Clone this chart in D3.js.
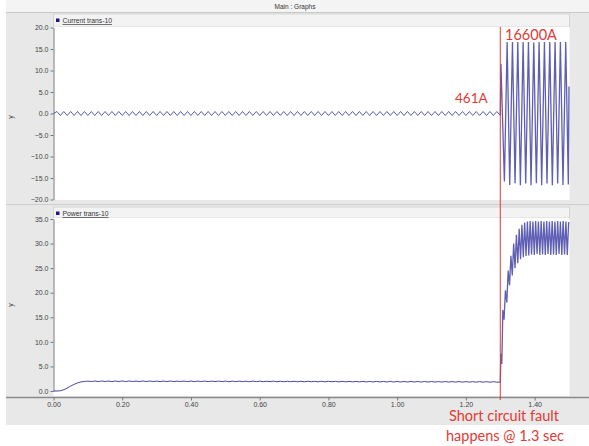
<!DOCTYPE html>
<html>
<head>
<meta charset="utf-8">
<script src="https://cdn.jsdelivr.net/npm/d3@7"></script>
<style>
  body { margin: 0; background: #fff; }
  svg { display: block; }
</style>
</head>
<body>
<svg id="chart" width="589" height="446"></svg>
<script>
// values (kA and MW, time in s)
const sampleStep = 0.01;   // pre-fault samples, one per half cycle

const currentPre = [
  0,
  0.46,-0.46,0.46,-0.46,0.46,-0.46,0.46,-0.46,0.46,-0.46,
  0.46,-0.46,0.46,-0.46,0.46,-0.46,0.46,-0.46,0.46,-0.46,
  0.46,-0.46,0.46,-0.46,0.46,-0.46,0.46,-0.46,0.46,-0.46,
  0.46,-0.46,0.46,-0.46,0.46,-0.46,0.46,-0.46,0.46,-0.46,
  0.46,-0.46,0.46,-0.46,0.46,-0.46,0.46,-0.46,0.46,-0.46,
  0.46,-0.46,0.46,-0.46,0.46,-0.46,0.46,-0.46,0.46,-0.46,
  0.46,-0.46,0.46,-0.46,0.46,-0.46,0.46,-0.46,0.46,-0.46,
  0.46,-0.46,0.46,-0.46,0.46,-0.46,0.46,-0.46,0.46,-0.46,
  0.46,-0.46,0.46,-0.46,0.46,-0.46,0.46,-0.46,0.46,-0.46,
  0.46,-0.46,0.46,-0.46,0.46,-0.46,0.46,-0.46,0.46,-0.46,
  0.46,-0.46,0.46,-0.46,0.46,-0.46,0.46,-0.46,0.46,-0.46,
  0.46,-0.46,0.46,-0.46,0.46,-0.46,0.46,-0.46,0.46,-0.46,
  0.46,-0.46,0.46,-0.46,0.46,-0.46,0.46,-0.46,0.46,-0.46
];

const powerPre = [
  0,0,0.05,0.25,0.6,1.0,1.35,1.65,1.85,1.95,2.0,
  1.93,2.03,1.92,2.04,1.93,2.02,1.92,2.03,1.93,2.04,
  1.92,2.03,1.93,2.02,1.92,2.04,1.93,2.03,1.92,2.02,
  1.91,2.02,1.92,2.03,1.91,2.01,1.92,2.02,1.91,2.03,
  1.91,2.01,1.92,2.02,1.90,2.01,1.91,2.02,1.90,2.01,
  1.90,2.00,1.91,2.01,1.90,2.00,1.89,2.01,1.90,2.00,
  1.89,1.99,1.90,2.00,1.89,1.99,1.88,1.99,1.89,1.98,
  1.88,1.98,1.87,1.98,1.88,1.97,1.87,1.98,1.86,1.97,
  1.87,1.96,1.86,1.97,1.86,1.96,1.85,1.95,1.86,1.96,
  1.85,1.95,1.84,1.95,1.85,1.94,1.84,1.95,1.83,1.94,
  1.84,1.93,1.83,1.94,1.83,1.93,1.82,1.93,1.83,1.92,
  1.82,1.92,1.81,1.92,1.82,1.91,1.81,1.92,1.80,1.91,
  1.81,1.90,1.80,1.91,1.80,1.90,1.79,1.90,1.80,1.80
];

// after the fault at 1.3 s
const currentFaultT = [1.3000,1.3020,1.3120,1.3200,1.3275,1.3355,1.3430,1.3510,1.3585,1.3665,
  1.3740,1.3820,1.3895,1.3975,1.4050,1.4130,1.4205,1.4285,1.4360,1.4440,
  1.4515,1.4595,1.4670,1.4750,1.4825,1.4905,1.4980,1.5000];
const currentFault = [-0.46,11.5,-15.8,16.6,-16.6,16.6,-16.2,16.6,-16.7,16.6,
  -16.3,16.6,-16.7,16.5,-16.2,16.6,-16.7,16.6,-16.3,16.6,
  -16.7,16.6,-16.3,16.6,-16.6,16.6,-16.5,6.3];

const powerFaultT = [1.3000,1.3020,1.3045,1.3075,1.3110,1.3150,1.3190,1.3230,1.3270,1.3310,
  1.3350,1.3390,1.3430,1.3470,1.3510,1.3550,1.3590,1.3630,1.3670,1.3710,
  1.3750,1.3790,1.3830,1.3870,1.3910,1.3950,1.3990,1.4030,1.4070,1.4110,
  1.4150,1.4190,1.4230,1.4270,1.4310,1.4350,1.4390,1.4430,1.4470,1.4510,
  1.4550,1.4590,1.4630,1.4670,1.4710,1.4750,1.4790,1.4830,1.4870,1.4910,
  1.4950,1.4990];
const powerFault = [1.80,7.6,5.5,16.5,14.5,20.5,18.0,24.5,21.5,27.5,
  23.5,30.0,25.0,31.8,26.0,33.0,26.8,33.8,27.2,34.3,
  27.5,34.5,27.6,34.6,27.8,34.5,27.7,34.6,27.9,34.5,
  27.7,34.6,27.8,34.5,27.7,34.6,27.9,34.5,27.7,34.6,
  27.8,34.5,27.7,34.6,27.9,34.5,27.7,34.6,27.8,34.5,
  27.7,34.4];

const currentTicks = [20, 15, 10, 5, 0, -5, -10, -15, -20];
const powerTicks = [35, 30, 25, 20, 15, 10, 5, 0];
const timeTicks = [0, 0.2, 0.4, 0.6, 0.8, 1.0, 1.2, 1.4];
const faultTime = 1.3;

const svg = d3.select("#chart");
const lineColor = "#30309a";
const faultColor = "#5e5eb4";
const red = "#e53935";
const tickFont = "Liberation Sans, Arial, sans-serif";

const x = d3.scaleLinear().domain([0, 1.5]).range([53.5, 569]);
const yCur = d3.scaleLinear().domain([-20, 20]).range([199.5, 27.5]);
const yPow = d3.scaleLinear().domain([0, 35]).range([391, 219]);

// window frame
svg.append("rect").attr("x", 6).attr("y", 0).attr("width", 583).attr("height", 425).attr("fill", "#e8e8e8");
svg.append("rect").attr("x", 6).attr("y", 0).attr("width", 583).attr("height", 12).attr("fill", "#f4f4f4");
svg.append("line").attr("x1", 6).attr("x2", 589).attr("y1", 12.5).attr("y2", 12.5).attr("stroke", "#c9c9c9");
svg.append("text").attr("x", 295).attr("y", 9).attr("text-anchor", "middle")
  .attr("font-family", tickFont).attr("font-size", 6.5).attr("fill", "#333").text("Main : Graphs");

// panel backgrounds
const panels = [
  { head: 14, top: 27, bottom: 200, label: "Current trans-10", yLabel: 117 },
  { head: 207, top: 218, bottom: 396, label: "Power trans-10", yLabel: 305 }
];
panels.forEach(p => {
  svg.append("rect").attr("x", 53.5).attr("y", p.head).attr("width", 516).attr("height", p.top - p.head)
    .attr("fill", "#f3f3f3").attr("stroke", "#cfcfcf").attr("stroke-width", 0.8);
  svg.append("rect").attr("x", 53.5).attr("y", p.top).attr("width", 516).attr("height", p.bottom - p.top)
    .attr("fill", "#fff");
  svg.append("rect").attr("x", 56).attr("y", p.head + 4.5).attr("width", 3.5).attr("height", 3.5).attr("fill", "#1a1a80");
  svg.append("text").attr("x", 62.5).attr("y", p.head + 9).attr("font-family", tickFont).attr("font-size", 6.8)
    .attr("fill", "#333").style("text-decoration", "underline").text(p.label);
  svg.append("text").attr("transform", `translate(13,${p.yLabel}) rotate(-90)`).attr("text-anchor", "middle")
    .attr("font-family", tickFont).attr("font-size", 7).attr("fill", "#444").text("y");
});
svg.append("line").attr("x1", 6).attr("x2", 589).attr("y1", 204.5).attr("y2", 204.5).attr("stroke", "#cdcdcd");

// y axes
function styleAxis(g) {
  g.select(".domain").attr("stroke", "#777");
  g.selectAll(".tick line").attr("stroke", "#777");
  g.selectAll(".tick text").attr("font-family", tickFont).attr("font-size", 7).attr("fill", "#444");
}
svg.append("g").attr("transform", "translate(53.5,0)")
  .call(d3.axisLeft(yCur).tickValues(currentTicks).tickFormat(d3.format(".1f")).tickSize(3).tickSizeOuter(0).tickPadding(2))
  .call(styleAxis);
svg.append("g").attr("transform", "translate(53.5,0)")
  .call(d3.axisLeft(yPow).tickValues(powerTicks).tickFormat(d3.format(".1f")).tickSize(3).tickSizeOuter(0).tickPadding(2))
  .call(styleAxis);

// x axis
svg.append("line").attr("x1", 6).attr("x2", 589).attr("y1", 397.5).attr("y2", 397.5).attr("stroke", "#8a8a8a").attr("stroke-width", 1.6);
svg.append("g").attr("transform", "translate(0,397.5)")
  .call(d3.axisBottom(x).tickValues(timeTicks).tickFormat(d3.format(".2f")).tickSize(3).tickSizeOuter(0).tickPadding(2))
  .call(styleAxis)
  .call(g => g.select(".domain").remove());

// waveforms
const line = y => d3.line().x(d => x(d[0])).y(d => y(d[1]));
const curPre = currentPre.map((v, i) => [i * sampleStep, v]);
const curPost = currentFaultT.map((t, i) => [t, currentFault[i]]);
const powPre = powerPre.map((v, i) => [i * sampleStep, v]);
const powPost = powerFaultT.map((t, i) => [t, powerFault[i]]);

svg.append("path").datum(curPre).attr("d", line(yCur))
  .attr("fill", "none").attr("stroke", lineColor).attr("stroke-width", 0.8);
svg.append("path").datum(powPre).attr("d", line(yPow))
  .attr("fill", "none").attr("stroke", lineColor).attr("stroke-width", 0.9);
svg.append("path").datum(curPost).attr("d", line(yCur))
  .attr("fill", "none").attr("stroke", faultColor).attr("stroke-width", 1.3);
svg.append("path").datum(powPost).attr("d", line(yPow))
  .attr("fill", "none").attr("stroke", faultColor).attr("stroke-width", 1.3);

// fault marker and notes
svg.append("line").attr("x1", x(faultTime)).attr("x2", x(faultTime)).attr("y1", 27).attr("y2", 400)
  .attr("stroke", red).attr("stroke-width", 1);

const noteFont = "Lato, 'Open Sans', sans-serif";
svg.append("text").attr("x", 505).attr("y", 40).attr("font-family", noteFont).attr("font-size", 14.5)
  .attr("fill", red).text("16600A");
svg.append("text").attr("x", 455).attr("y", 102.5).attr("font-family", noteFont).attr("font-size", 13.5)
  .attr("fill", red).text("461A");
svg.append("text").attr("x", 504).attr("y", 421).attr("text-anchor", "middle").attr("font-family", noteFont)
  .attr("font-size", 14.5).attr("fill", red).text("Short circuit fault");
svg.append("text").attr("x", 505).attr("y", 441).attr("text-anchor", "middle").attr("font-family", noteFont)
  .attr("font-size", 14.5).attr("fill", red).text("happens @ 1.3 sec");
</script>
</body>
</html>
